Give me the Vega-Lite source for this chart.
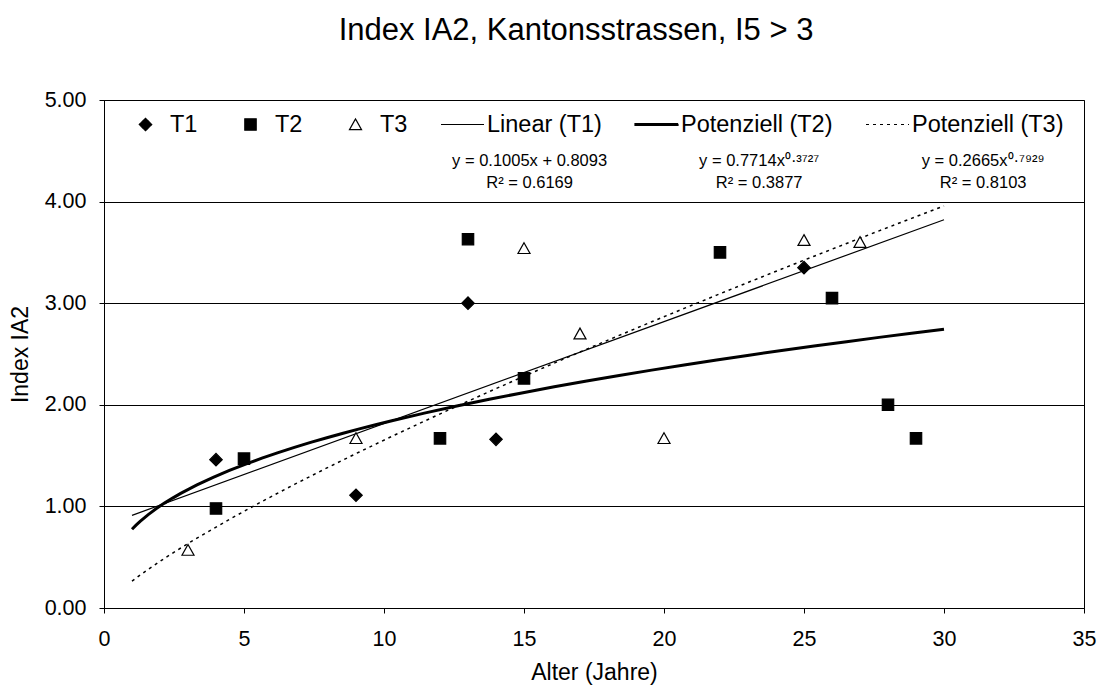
{
  "$schema": "https://vega.github.io/schema/vega-lite/v6.json",
  "width": 980,
  "height": 508,
  "autosize": "none",
  "padding": {"left": 104, "top": 100, "right": 17, "bottom": 85},
  "background": "white",
  "config": {
    "font": "Liberation Sans",
    "view": {"stroke": "black", "strokeWidth": 1},
    "axis": {"domainColor": "black", "tickColor": "black", "labelColor": "black", "titleColor": "black", "titleFontWeight": "normal"},
    "legend": {
      "orient": "none", "legendX": 19, "legendY": 2, "direction": "horizontal", "columns": 6, "title": null,
      "symbolSize": 1849, "symbolStrokeWidth": 1.2, "labelFontSize": 23.5, "labelFont": "Liberation Sans", "labelColor": "black", "labelOffset": 2,
      "columnPadding": 30, "symbolStrokeColor": "black", "padding": 0
    }
  },
  "title": {"text": "Index IA2, Kantonsstrassen, I5 > 3", "fontSize": 31, "fontWeight": "normal", "font": "Liberation Sans", "anchor": "middle", "offset": 42, "dx": -18, "color": "black"},
  "datasets": {
    "pts": [
      {"x": 4, "y": 1.46, "series": "T1", "trend": "Linear (T1)"},
      {"x": 9, "y": 1.11, "series": "T1", "trend": "Linear (T1)"},
      {"x": 13, "y": 3.00, "series": "T1", "trend": "Linear (T1)"},
      {"x": 14, "y": 1.66, "series": "T1", "trend": "Linear (T1)"},
      {"x": 25, "y": 3.35, "series": "T1", "trend": "Linear (T1)"},
      {"x": 4, "y": 0.98, "series": "T2", "trend": "Potenziell (T2)"},
      {"x": 5, "y": 1.47, "series": "T2", "trend": "Potenziell (T2)"},
      {"x": 12, "y": 1.67, "series": "T2", "trend": "Potenziell (T2)"},
      {"x": 13, "y": 3.63, "series": "T2", "trend": "Potenziell (T2)"},
      {"x": 15, "y": 2.26, "series": "T2", "trend": "Potenziell (T2)"},
      {"x": 22, "y": 3.50, "series": "T2", "trend": "Potenziell (T2)"},
      {"x": 26, "y": 3.05, "series": "T2", "trend": "Potenziell (T2)"},
      {"x": 28, "y": 2.00, "series": "T2", "trend": "Potenziell (T2)"},
      {"x": 29, "y": 1.67, "series": "T2", "trend": "Potenziell (T2)"},
      {"x": 3, "y": 0.57, "series": "T3", "trend": "Potenziell (T3)"},
      {"x": 9, "y": 1.67, "series": "T3", "trend": "Potenziell (T3)"},
      {"x": 15, "y": 3.54, "series": "T3", "trend": "Potenziell (T3)"},
      {"x": 17, "y": 2.70, "series": "T3", "trend": "Potenziell (T3)"},
      {"x": 20, "y": 1.67, "series": "T3", "trend": "Potenziell (T3)"},
      {"x": 25, "y": 3.62, "series": "T3", "trend": "Potenziell (T3)"},
      {"x": 27, "y": 3.60, "series": "T3", "trend": "Potenziell (T3)"}
    ],
    "eq": [
      {"x": 15.2, "y": 4.40, "label": "y = 0.1005x + 0.8093"},
      {"x": 15.2, "y": 4.18, "label": "R² = 0.6169"},
      {"x": 23.4, "y": 4.40, "label": "y = 0.7714x⁰·³⁷²⁷"},
      {"x": 23.4, "y": 4.18, "label": "R² = 0.3877"},
      {"x": 31.4, "y": 4.40, "label": "y = 0.2665x⁰·⁷⁹²⁹"},
      {"x": 31.4, "y": 4.18, "label": "R² = 0.8103"}
    ]
  },
  "encoding": {
    "x": {"field": "x", "type": "quantitative", "scale": {"domain": [0, 35], "nice": false, "zero": false},
      "axis": {"values": [0, 5, 10, 15, 20, 25, 30, 35], "grid": false, "title": "Alter (Jahre)", "labelFontSize": 21.5, "titleFontSize": 23, "tickSize": 5, "labelPadding": 15, "titlePadding": 12, "labelFlush": false}},
    "y": {"field": "y", "type": "quantitative", "scale": {"domain": [0, 5], "nice": false, "zero": false},
      "axis": {"values": [0, 1, 2, 3, 4, 5], "format": ".2f", "grid": true, "gridColor": "black", "gridWidth": 1, "gridOpacity": 1, "title": "Index IA2", "labelFontSize": 21.5, "titleFontSize": 23, "tickSize": 5, "labelPadding": 13, "titlePadding": 12, "labelFlush": false}}
  },
  "layer": [
    {
      "data": {"name": "pts"},
      "transform": [
        {"filter": "datum.series === 'T1'"},
        {"regression": "y", "on": "x", "method": "linear", "extent": [1, 30], "groupby": ["trend"]}
      ],
      "mark": {"type": "line", "stroke": "black", "strokeWidth": 1.2}
    },
    {
      "data": {"name": "pts"},
      "transform": [
        {"filter": "datum.series === 'T2'"},
        {"regression": "y", "on": "x", "method": "pow", "extent": [1, 30], "groupby": ["trend"]}
      ],
      "mark": {"type": "line", "stroke": "black", "strokeWidth": 3}
    },
    {
      "data": {"name": "pts"},
      "transform": [
        {"filter": "datum.series === 'T3'"},
        {"regression": "y", "on": "x", "method": "pow", "extent": [1, 30], "groupby": ["trend"]}
      ],
      "mark": {"type": "line", "stroke": "black", "strokeWidth": 1.5, "strokeDash": [3, 4]}
    },
    {
      "data": {"name": "pts"},
      "mark": {"type": "point", "stroke": "black", "strokeWidth": 1.2, "size": 1849, "opacity": 1, "filled": false},
      "encoding": {
        "shape": {"field": "series", "type": "nominal",
          "scale": {"domain": ["T1", "T2", "T3", "Linear (T1)", "Potenziell (T2)", "Potenziell (T3)"],
            "range": ["M-0.29,0L0,-0.29L0.29,0L0,0.29Z", "M-0.265,-0.265L0.265,-0.265L0.265,0.265L-0.265,0.265Z", "M0,-0.26L0.28,0.24L-0.28,0.24Z", "stroke", "M-1,-0.04L1,-0.04L1,0.04L-1,0.04Z", "stroke"]},
          "legend": {
            "encoding": {"symbols": {
              "strokeDash": {"value": {"expr": "datum.value === 'Potenziell (T3)' ? [3, 4] : [1, 0]"}},
              "stroke": {"value": "black"},
              "opacity": {"value": 1}
            }}
          }},
        "fill": {"field": "series", "type": "nominal",
          "scale": {"domain": ["T1", "T2", "T3", "Linear (T1)", "Potenziell (T2)", "Potenziell (T3)"], "range": ["black", "black", "white", "black", "black", "black"]},
          "legend": {
            "encoding": {"symbols": {
              "strokeDash": {"value": {"expr": "datum.value === 'Potenziell (T3)' ? [3, 4] : [1, 0]"}},
              "stroke": {"value": "black"},
              "opacity": {"value": 1}
            }}
          }}
      }
    },
    {
      "data": {"name": "eq"},
      "mark": {"type": "text", "fontSize": 16.5, "align": "center", "baseline": "middle", "color": "black"},
      "encoding": {"text": {"field": "label", "type": "nominal"}}
    }
  ]
}
